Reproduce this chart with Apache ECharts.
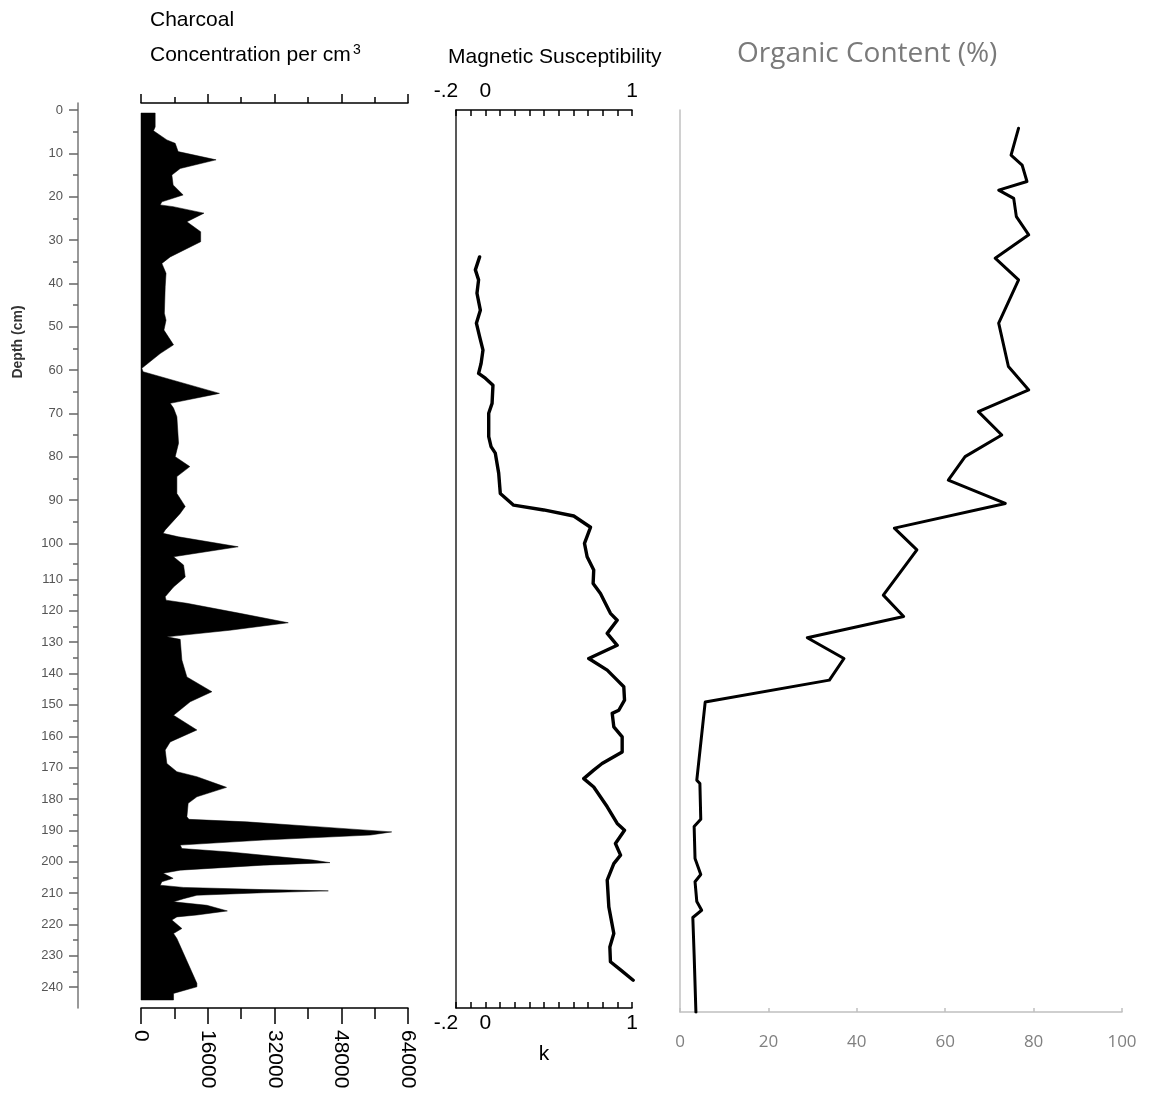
<!DOCTYPE html>
<html>
<head>
<meta charset="utf-8">
<script src="https://cdn.jsdelivr.net/npm/echarts@6/dist/echarts.min.js"></script>
<style>html,body{margin:0;padding:0;background:#fff;}#chart{width:1150px;height:1103px;}</style>
</head>
<body>
<div id="chart"></div>
<script>
// ---- Data (depth in cm) ----
const charcoalDepth = [0.7,3.9,4.8,6.9,7.7,9.6,11.5,13.5,15,17.3,19.6,21.2,21.9,22.3,23.8,25.8,28.1,30.4,33.9,35.4,37.7,40.8,46.9,48.5,50.8,54.2,56.2,59.6,60.4,65.4,67.7,68.8,70.8,76.9,80,82.3,84.6,88.5,91.5,93.1,96.9,97.7,98.5,100.8,103.1,105.4,109.2,112.4,115.5,116.6,117.6,120.8,123.8,126.2,128.3,129.1,135.7,141.1,145.8,149,153.3,158,161.8,164.4,168.7,171.3,172.9,176.3,179.3,181.4,185.7,186.5,187.3,188.9,190.5,191.5,193.1,194.7,195.8,196.9,199.5,200.3,201.1,202.7,203.7,205.3,206.4,207.5,208.2,208.9,209.3,209.9,210.7,211.8,212.8,213.9,215.7,217,217.6,218.6,221.3,222.9,224.5,238.8,239.9,242,244.1];
const charcoalValue = [3400,3400,3000,6200,8200,8900,18000,9400,7400,7700,10100,5000,4600,7700,15100,11000,14300,14300,7000,5000,6000,5800,5600,6000,5500,7800,4600,200,500,18800,7000,7800,8600,9000,8200,11700,8600,8600,10600,9400,5800,5300,9000,23300,7800,10200,10600,7800,5800,6000,11000,23700,35300,21300,6200,9400,9800,11000,17000,11800,7800,13400,7000,5800,6200,8600,13400,20500,13400,11300,11000,11500,25300,42900,60100,55000,29300,9400,9800,21300,41300,45300,29300,9400,5300,7700,5000,4600,10200,29300,44900,29300,13400,10200,7800,15800,20700,13400,8600,7400,9800,7800,8600,13400,13400,7800,7800];

const magDepth = [33.9,36.9,39.2,42.3,46.2,49.2,52.3,55.4,58.5,60.8,61.9,63.5,67.7,70,75.4,77.7,79.2,83.8,88.5,91.2,92.3,93.7,96.3,100,103.1,107,111.3,114.5,116.6,120.8,123,127.2,131,135.2,138.9,142.1,144.2,148.5,151.7,152.7,157,160.2,165,168.7,170.8,173.5,176.2,182.5,187.8,190,194.2,197.9,200.6,205.9,214.4,222.9,227.2,231.9,234.5,237.8];
const magValue = [-0.039,-0.068,-0.046,-0.057,-0.034,-0.061,-0.039,-0.016,-0.029,-0.046,0,0.052,0.046,0.023,0.023,0.039,0.068,0.091,0.102,0.193,0.398,0.603,0.717,0.676,0.694,0.739,0.735,0.785,0.808,0.853,0.899,0.831,0.899,0.705,0.831,0.899,0.944,0.949,0.91,0.865,0.876,0.933,0.933,0.796,0.739,0.671,0.739,0.831,0.899,0.949,0.887,0.922,0.876,0.831,0.842,0.876,0.849,0.853,0.922,1.008];

const organicDepth = [4.2,10.4,12.7,16.5,18.5,20.4,24.6,28.8,34.2,39.2,49.2,59.2,64.6,69.6,75,80,85.4,90.8,96.5,101.5,115,121.8,128.6,135.2,142.1,149.1,174,175.1,186.5,188.8,199,204.1,206.4,212.7,215.5,217.8,229.8,248];
const organicValue = [76.6,74.9,77.4,78.5,72.1,75.5,76.1,78.9,71.3,76.6,72.1,74.3,78.9,67.5,72.8,64.5,60.7,73.6,48.5,53.6,46,50.6,28.8,37.1,33.8,5.7,3.8,4.5,4.7,3.2,3.4,4.7,3.4,3.8,4.9,2.9,3.2,3.6];

const depthMajorTicks = [0,10,20,30,40,50,60,70,80,90,100,110,120,130,140,150,160,170,180,190,200,210,220,230,240];
const depthMinorTicks = [5,15,25,35,45,55,65,75,85,95,105,115,125,135,145,155,165,175,185,195,205,215,225,235];
const charcoalTicks = [0,16000,32000,48000,64000];
const magLabelTicks = [-0.2,0,1];
const organicTicks = [0,20,40,60,80,100];

// ---- depth scale (the original depth axis changes scale near 104 cm) ----
const BREAK = 104, RATIO = 0.7237;
const depthToP = d => d <= BREAK ? d : BREAK + (d - BREAK) * RATIO;
const pToDepth = p => p <= BREAK ? p : BREAK + (p - BREAK) / RATIO;

const charcoalData = charcoalDepth.map((d, i) => [charcoalValue[i], depthToP(d)]);
const magData = magDepth.map((d, i) => [magValue[i], depthToP(d)]);
const organicData = organicDepth.map((d, i) => [organicValue[i], depthToP(d)]);

const FONT = 'Liberation Sans, Arial, sans-serif';
const chart = echarts.init(document.getElementById('chart'));

const magLabel = v => (v < -0.1 ? '{l|-.2}' : String(Math.round(v)));
const magRich = { l: { fontSize: 21, fontFamily: FONT, color: '#000', padding: [0, 20, 0, 0] } };

chart.setOption({
  animation: false,
  backgroundColor: '#fff',
  grid: [
    { left: 141, top: 103, width: 267, height: 905, containLabel: false, outerBoundsMode: 'none' },
    { left: 456, top: 110, width: 176, height: 898, containLabel: false, outerBoundsMode: 'none' },
    { left: 680, top: 110, width: 442, height: 902, containLabel: false, outerBoundsMode: 'none' }
  ],
  xAxis: [
    { gridIndex: 0, type: 'value', position: 'bottom', min: 0, max: 64000, interval: 16000,
      axisLine: { show: true, onZero: false, lineStyle: { color: '#000', width: 1.5 } },
      axisTick: { show: true, inside: false, length: 16, lineStyle: { color: '#000', width: 1.5 } },
      minorTick: { show: true, splitNumber: 2, length: 11, lineStyle: { color: '#000', width: 1.5 } },
      axisLabel: { show: true, rotate: -90, margin: 22, fontSize: 21, fontFamily: FONT, color: '#000', customValues: charcoalTicks, formatter: v => String(v) },
      splitLine: { show: false }, minorSplitLine: { show: false } },
    { gridIndex: 0, type: 'value', position: 'top', min: 0, max: 64000, interval: 16000,
      axisLine: { show: true, onZero: false, lineStyle: { color: '#000', width: 1.5 } },
      axisTick: { show: true, inside: false, length: 9, lineStyle: { color: '#000', width: 1.5 } },
      minorTick: { show: true, splitNumber: 2, length: 6, lineStyle: { color: '#000', width: 1.5 } },
      axisLabel: { show: false }, splitLine: { show: false }, minorSplitLine: { show: false } },
    { gridIndex: 1, type: 'value', position: 'bottom', min: -0.2, max: 1, interval: 0.1,
      name: 'k', nameLocation: 'middle', nameGap: 36, nameTextStyle: { fontSize: 21, fontFamily: FONT, color: '#000' },
      axisLine: { show: true, onZero: false, lineStyle: { color: '#000', width: 1.5 } },
      axisTick: { show: true, inside: true, length: 6, lineStyle: { color: '#000', width: 1.5 } },
      axisLabel: { show: true, margin: 5, fontSize: 21, fontFamily: FONT, color: '#000', customValues: magLabelTicks, formatter: magLabel, rich: magRich },
      splitLine: { show: false } },
    { gridIndex: 1, type: 'value', position: 'top', min: -0.2, max: 1, interval: 0.1,
      axisLine: { show: true, onZero: false, lineStyle: { color: '#000', width: 1.5 } },
      axisTick: { show: true, inside: true, length: 6, lineStyle: { color: '#000', width: 1.5 } },
      axisLabel: { show: true, margin: 8, fontSize: 21, fontFamily: FONT, color: '#000', customValues: magLabelTicks, formatter: magLabel, rich: magRich },
      splitLine: { show: false } },
    { gridIndex: 2, type: 'value', position: 'bottom', min: 0, max: 100, interval: 20,
      axisLine: { show: true, onZero: false, lineStyle: { color: '#c0c0c0', width: 1.5 } },
      axisTick: { show: true, inside: true, length: 4, lineStyle: { color: '#c0c0c0', width: 1.5 } },
      axisLabel: { show: true, margin: 22, fontSize: 17, fontFamily: 'Open Sans, sans-serif', color: '#808080', customValues: organicTicks },
      splitLine: { show: false } }
  ],
  yAxis: [
    { gridIndex: 0, type: 'value', inverse: true, min: -1.6155, max: 207.24, position: 'left', offset: 63,
      axisLine: { show: true, onZero: false, lineStyle: { color: '#777', width: 1.5 } },
      axisTick: { show: true, inside: false, length: 9, customValues: depthMajorTicks.map(depthToP), lineStyle: { color: '#666', width: 1.5 } },
      axisLabel: { show: true, margin: 15, fontSize: 13, fontFamily: FONT, color: '#555',
        customValues: depthMajorTicks.map(depthToP), formatter: v => String(Math.round(pToDepth(v))) },
      splitLine: { show: false } },
    { gridIndex: 0, type: 'value', inverse: true, min: -1.6155, max: 207.24, position: 'left', offset: 63,
      axisLine: { show: false, onZero: false },
      axisTick: { show: true, inside: false, length: 5, customValues: depthMinorTicks.map(depthToP), lineStyle: { color: '#666', width: 1.5 } },
      axisLabel: { show: false }, splitLine: { show: false } },
    { gridIndex: 1, type: 'value', inverse: true, min: 0, max: 207.24, position: 'left',
      axisLine: { show: true, onZero: false, lineStyle: { color: '#222', width: 1.5 } },
      axisTick: { show: false }, axisLabel: { show: false }, splitLine: { show: false } },
    { gridIndex: 2, type: 'value', inverse: true, min: 0, max: 208.17, position: 'left',
      axisLine: { show: true, onZero: false, lineStyle: { color: '#c0c0c0', width: 1.5 } },
      axisTick: { show: false }, axisLabel: { show: false }, splitLine: { show: false } }
  ],
  series: [
    { type: 'custom', xAxisIndex: 0, yAxisIndex: 0, coordinateSystem: 'cartesian2d', data: charcoalData, silent: true,
      renderItem: function (params, api) {
        if (params.dataIndex !== 0) return null;
        const pts = [api.coord([0, charcoalData[0][1]])];
        charcoalData.forEach(p => pts.push(api.coord(p)));
        pts.push(api.coord([0, charcoalData[charcoalData.length - 1][1]]));
        return { type: 'polygon', shape: { points: pts }, style: { fill: '#000', stroke: '#000', lineWidth: 0.5 } };
      } },
    { type: 'line', xAxisIndex: 2, yAxisIndex: 2, data: magData, showSymbol: false, symbol: 'none',
      lineStyle: { color: '#000', width: 3.4, join: 'round', cap: 'round' } },
    { type: 'line', xAxisIndex: 4, yAxisIndex: 3, data: organicData, showSymbol: false, symbol: 'none',
      lineStyle: { color: '#000', width: 3, join: 'round', cap: 'round' } }
  ],
  graphic: [
    { type: 'text', left: 150, top: 10, style: { text: 'Charcoal', font: '21px ' + FONT, fill: '#000' } },
    { type: 'text', left: 150, top: 45, style: { text: 'Concentration per cm', font: '21px ' + FONT, fill: '#000' } },
    { type: 'text', left: 353, top: 43, style: { text: '3', font: '14px ' + FONT, fill: '#000' } },
    { type: 'text', left: 448, top: 47, style: { text: 'Magnetic Susceptibility', font: '21px ' + FONT, fill: '#000' } },
    { type: 'text', left: 737, top: 40, style: { text: 'Organic Content (%)', font: '28px Open Sans, sans-serif', fill: '#7a7a7a' } },
    { type: 'text', x: 18, y: 342, rotation: Math.PI / 2,
      style: { text: 'Depth (cm)', font: 'bold 14px ' + FONT, fill: '#333', align: 'center', verticalAlign: 'middle', textAlign: 'center', textVerticalAlign: 'middle' } }
  ]
});
</script>
</body>
</html>
